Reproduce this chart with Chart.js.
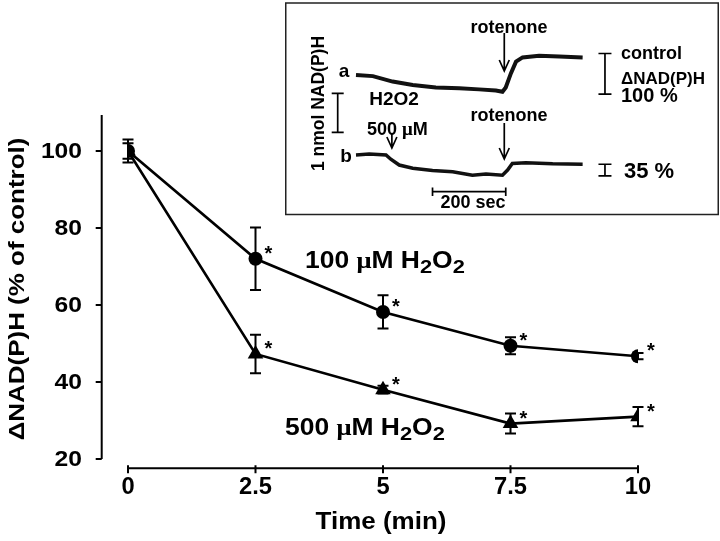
<!DOCTYPE html>
<html>
<head>
<meta charset="utf-8">
<script src="https://cdn.jsdelivr.net/npm/chart.js@4.4.0/dist/chart.umd.min.js"></script>
<style>
  body { margin: 0; background: #fff; }
  #wrap { position: relative; width: 720px; height: 541px; }
  #main { position: absolute; left: 0; top: 0; }
  #inset { position: absolute; left: 285px; top: 2px; }
</style>
</head>
<body>
<div id="wrap">
  <canvas id="main" width="720" height="541"></canvas>
  <canvas id="inset" width="434" height="214"></canvas>
</div>
<script>
// main plot data
const times = [0, 2.5, 5, 7.5, 10];
const nadh100 = [100, 72, 58.2, 49.4, 46.7];
const err100 = [3, 8.1, 4.3, 2.2, 0.8];
const nadh500 = [100, 47.3, 38, 29.2, 31];
const err500 = [2, 5, 1, 2.6, 2.5];
const signif = [false, true, true, true, true];
const xTicks = [0, 2.5, 5, 7.5, 10];
const yTicks = [20, 40, 60, 80, 100];

// inset traces: time (s) and NAD(P)H (nmol, arbitrary baseline)
const traceATime = [0, 46, 100, 155, 218, 282, 336, 382, 400, 409, 423, 437, 455, 500, 555, 619];
const traceAVal = [2.95, 2.92, 2.78, 2.69, 2.63, 2.61, 2.58, 2.55, 2.52, 2.63, 2.99, 3.29, 3.40, 3.44, 3.42, 3.40];
const traceBTime = [0, 36, 82, 95, 118, 155, 209, 264, 318, 355, 400, 414, 427, 464, 537, 619];
const traceBVal = [0.90, 0.92, 0.90, 0.79, 0.64, 0.56, 0.50, 0.47, 0.38, 0.41, 0.38, 0.51, 0.68, 0.70, 0.67, 0.66];
const rotenoneTime = 405;
const h2o2Time = 98;
const controlDelta = [2.46, 3.5];   // 100 %
const treatedDelta = [0.36, 0.66];  // 35 %

const SANS = '"Liberation Sans", Arial, sans-serif';
const SERIF = '"Liberation Serif", "Times New Roman", serif';

// text in the figure is a bit wider than Arial, so stretch it horizontally
function sText(ctx, text, x, y, sx, align, rot) {
  ctx.save();
  ctx.translate(x, y);
  if (rot) ctx.rotate(rot);
  ctx.scale(sx, 1);
  ctx.textAlign = align;
  ctx.fillText(text, 0, 0);
  ctx.restore();
}

function drawRuns(ctx, runs, x, y, sx) {
  ctx.save();
  ctx.translate(x, y);
  ctx.scale(sx, 1);
  let cx = 0;
  ctx.textAlign = 'left';
  ctx.textBaseline = 'alphabetic';
  runs.forEach(r => {
    ctx.font = r.f;
    ctx.fillText(r.t, cx, r.dy || 0);
    cx += ctx.measureText(r.t).width;
  });
  ctx.restore();
}

function h2o2Label(conc) {
  const b = 'bold 23px ' + SANS;
  const s = 'bold 19px ' + SANS;
  return [
    {t: conc + ' ', f: b},
    {t: 'μ', f: 'bold 23px ' + SERIF},
    {t: 'M H', f: b},
    {t: '2', f: s, dy: 5},
    {t: 'O', f: b},
    {t: '2', f: s, dy: 5}
  ];
}

const mainDecor = {
  id: 'mainDecor',
  beforeDatasetsDraw(chart) {
    const ctx = chart.ctx, xs = chart.scales.x, ys = chart.scales.y;
    ctx.save();
    ctx.strokeStyle = '#000';
    ctx.lineWidth = 2;
    [[nadh100, err100], [nadh500, err500]].forEach(([vals, errs]) => {
      vals.forEach((v, i) => {
        const px = xs.getPixelForValue(times[i]);
        const top = ys.getPixelForValue(v + errs[i]);
        const bot = ys.getPixelForValue(v - errs[i]);
        ctx.beginPath();
        ctx.moveTo(px, top); ctx.lineTo(px, bot);
        ctx.moveTo(px - 5.5, top); ctx.lineTo(px + 5.5, top);
        ctx.moveTo(px - 5.5, bot); ctx.lineTo(px + 5.5, bot);
        ctx.stroke();
      });
    });
    ctx.restore();
  },
  afterDraw(chart) {
    const ctx = chart.ctx, xs = chart.scales.x, ys = chart.scales.y;
    ctx.save();
    ctx.fillStyle = '#000';
    ctx.strokeStyle = '#000';
    ctx.lineWidth = 2;

    // y axis, set off to the left
    const axX = 101.7;
    ctx.beginPath();
    ctx.moveTo(axX, chart.chartArea.top);
    ctx.lineTo(axX, ys.getPixelForValue(20));
    yTicks.forEach(t => {
      const py = ys.getPixelForValue(t);
      ctx.moveTo(axX - 6, py); ctx.lineTo(axX, py);
    });
    ctx.stroke();
    ctx.font = 'bold 22px ' + SANS;
    ctx.textBaseline = 'middle';
    yTicks.forEach(t => sText(ctx, String(t), 82, ys.getPixelForValue(t) + 1, 1.12, 'right'));

    // x axis, set off below
    const axY = 468.3;
    ctx.beginPath();
    ctx.moveTo(xs.getPixelForValue(0), axY);
    ctx.lineTo(xs.getPixelForValue(10), axY);
    xTicks.forEach(t => {
      const px = xs.getPixelForValue(t);
      ctx.moveTo(px, axY - 3); ctx.lineTo(px, axY + 5);
    });
    ctx.stroke();
    ctx.font = 'bold 23px ' + SANS;
    xTicks.forEach(t => sText(ctx, String(t), xs.getPixelForValue(t), 488, 1.03, 'center'));

    // axis titles
    ctx.font = 'bold 23px ' + SANS;
    sText(ctx, 'Time (min)', 381, 523, 1.13, 'center');
    ctx.font = 'bold 22px ' + SANS;
    sText(ctx, 'ΔNAD(P)H (% of control)', 18, 289, 1.18, 'center', -Math.PI / 2);

    // significance stars
    ctx.font = 'bold 20px ' + SANS;
    ctx.textBaseline = 'alphabetic';
    ctx.textAlign = 'center';
    [nadh100, nadh500].forEach(vals => {
      vals.forEach((v, i) => {
        if (!signif[i]) return;
        ctx.fillText('*', xs.getPixelForValue(times[i]) + 13, ys.getPixelForValue(v) + 1);
      });
    });

    // series labels
    drawRuns(ctx, h2o2Label('100'), 305, 268, 1.15);
    drawRuns(ctx, h2o2Label('500'), 285, 435, 1.15);
    ctx.restore();
  }
};

new Chart(document.getElementById('main'), {
  type: 'line',
  data: {
    datasets: [
      {
        label: '100 µM H2O2',
        data: times.map((t, i) => ({x: t, y: nadh100[i]})),
        borderColor: '#000',
        backgroundColor: '#000',
        borderWidth: 2.6,
        pointStyle: 'circle',
        pointRadius: 7,
        pointBorderWidth: 0
      },
      {
        label: '500 µM H2O2',
        data: times.map((t, i) => ({x: t, y: nadh500[i]})),
        borderColor: '#000',
        backgroundColor: '#000',
        borderWidth: 2.6,
        pointStyle: 'triangle',
        pointRadius: 9,
        pointBorderWidth: 0
      }
    ]
  },
  options: {
    responsive: false,
    animation: false,
    layout: { padding: { left: 128, right: 82, top: 115, bottom: 82 } },
    scales: {
      x: { type: 'linear', min: 0, max: 10, display: false },
      y: { type: 'linear', min: 20, max: 109.35, display: false }
    },
    plugins: { legend: { display: false }, tooltip: { enabled: false } }
  },
  plugins: [mainDecor]
});

// ---------- inset ----------
function arrowDown(ctx, x, y0, y1) {
  ctx.beginPath();
  ctx.moveTo(x, y0); ctx.lineTo(x, y1);
  ctx.moveTo(x - 5, y1 - 11); ctx.lineTo(x, y1); ctx.lineTo(x + 5, y1 - 11);
  ctx.stroke();
}

function vBar(ctx, x, y0, y1, w) {
  ctx.beginPath();
  ctx.moveTo(x, y0); ctx.lineTo(x, y1);
  ctx.moveTo(x - w, y0); ctx.lineTo(x + w, y0);
  ctx.moveTo(x - w, y1); ctx.lineTo(x + w, y1);
  ctx.stroke();
}

const insetDecor = {
  id: 'insetDecor',
  afterDraw(chart) {
    const ctx = chart.ctx, xs = chart.scales.x, ys = chart.scales.y;
    const X = v => xs.getPixelForValue(v), Y = v => ys.getPixelForValue(v);
    ctx.save();
    ctx.fillStyle = '#000';
    ctx.strokeStyle = '#222';
    ctx.lineWidth = 1.5;
    ctx.strokeRect(0.75, 1, 432.5, 211.5);

    ctx.strokeStyle = '#000';
    ctx.lineWidth = 1.7;
    // 1 nmol scale bar
    vBar(ctx, 52.7, Y(2.48), Y(1.48), 6);
    // response bars on the right
    vBar(ctx, X(680), Y(controlDelta[1]), Y(controlDelta[0]), 6.5);
    vBar(ctx, X(680), Y(treatedDelta[1]), Y(treatedDelta[0]), 6.5);
    // 200 sec bar
    ctx.beginPath();
    ctx.moveTo(X(209), 189.7); ctx.lineTo(X(409), 189.7);
    ctx.moveTo(X(209), 185.5); ctx.lineTo(X(209), 194);
    ctx.moveTo(X(409), 185.5); ctx.lineTo(X(409), 194);
    ctx.stroke();

    // arrows
    arrowDown(ctx, X(rotenoneTime), 31, 69);
    arrowDown(ctx, X(rotenoneTime), 121, 157);
    arrowDown(ctx, X(h2o2Time), 131, 146);

    // texts
    ctx.textBaseline = 'middle';
    ctx.textAlign = 'center';
    ctx.font = 'bold 18px ' + SANS;
    ctx.fillText('rotenone', 224, 26);
    ctx.fillText('rotenone', 224, 114.5);
    ctx.font = 'bold 19px ' + SANS;
    ctx.fillText('H2O2', 109, 98);
    ctx.font = 'bold 18px ' + SANS;
    ctx.fillText('200 sec', 188, 201.5);

    ctx.font = 'bold 19px ' + SANS;
    ctx.fillText('a', 59, 70);
    ctx.fillText('b', 61, 155);

    // 500 µM
    drawRuns(ctx, [
      {t: '500 ', f: 'bold 18px ' + SANS},
      {t: 'μ', f: 'bold 19px ' + SERIF},
      {t: 'M', f: 'bold 18px ' + SANS}
    ], 82, 133, 1);

    ctx.textAlign = 'left';
    ctx.textBaseline = 'middle';
    ctx.font = 'bold 18px ' + SANS;
    ctx.fillText('control', 336, 52);
    ctx.font = 'bold 17px ' + SANS;
    ctx.fillText('ΔNAD(P)H', 336, 77);
    ctx.font = 'bold 20px ' + SANS;
    ctx.fillText('100 %', 336, 94);
    ctx.font = 'bold 22px ' + SANS;
    ctx.fillText('35 %', 339, 170);

    // vertical scale label
    ctx.font = 'bold 17.5px ' + SANS;
    sText(ctx, '1 nmol NAD(P)H', 34, 101.5, 1, 'center', -Math.PI / 2);
    ctx.restore();
  }
};

new Chart(document.getElementById('inset'), {
  type: 'line',
  data: {
    datasets: [
      {
        label: 'a',
        data: traceATime.map((t, i) => ({x: t, y: traceAVal[i]})),
        borderColor: '#111',
        borderWidth: 4,
        pointRadius: 0,
        tension: 0,
        clip: false
      },
      {
        label: 'b',
        data: traceBTime.map((t, i) => ({x: t, y: traceBVal[i]})),
        borderColor: '#111',
        borderWidth: 3.5,
        pointRadius: 0,
        tension: 0,
        clip: false
      }
    ]
  },
  options: {
    responsive: false,
    animation: false,
    layout: { padding: { left: 71, right: 136, top: 38, bottom: 26 } },
    scales: {
      x: { type: 'linear', min: 0, max: 620, display: false },
      y: { type: 'linear', min: 0, max: 3.846, display: false }
    },
    plugins: { legend: { display: false }, tooltip: { enabled: false } }
  },
  plugins: [insetDecor]
});
</script>
</body>
</html>
